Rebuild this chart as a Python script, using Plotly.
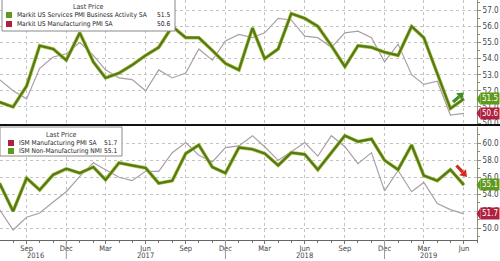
import math
import plotly.graph_objects as go

# ---------------- data ----------------
months = ['2016-07-01', '2016-08-01', '2016-09-01', '2016-10-01', '2016-11-01', '2016-12-01',
          '2017-01-01', '2017-02-01', '2017-03-01', '2017-04-01', '2017-05-01', '2017-06-01',
          '2017-07-01', '2017-08-01', '2017-09-01', '2017-10-01', '2017-11-01', '2017-12-01',
          '2018-01-01', '2018-02-01', '2018-03-01', '2018-04-01', '2018-05-01', '2018-06-01',
          '2018-07-01', '2018-08-01', '2018-09-01', '2018-10-01', '2018-11-01', '2018-12-01',
          '2019-01-01', '2019-02-01', '2019-03-01', '2019-04-01', '2019-05-01', '2019-06-01']

markit_services = [51.3, 51.0, 52.3, 54.8, 54.6, 53.9, 55.6, 53.8, 52.8, 53.1, 53.6, 54.2,
                   54.7, 56.0, 55.3, 55.3, 54.5, 53.7, 53.3, 55.9, 54.0, 54.6, 56.8, 56.5,
                   56.0, 54.8, 53.5, 54.8, 54.7, 54.4, 54.2, 56.0, 55.3, 53.0, 50.9, 51.5]
markit_mfg = [52.7, 52.0, 51.5, 53.4, 54.1, 54.3, 55.0, 54.2, 53.3, 52.8, 52.7, 52.0,
              53.3, 52.8, 53.1, 54.6, 53.9, 55.1, 55.5, 55.3, 55.6, 56.5, 56.4, 55.4,
              55.3, 54.7, 55.6, 55.7, 55.3, 53.8, 54.9, 53.0, 52.4, 52.6, 50.5, 50.6]
ism_nonmfg = [55.3, 52.0, 55.9, 54.5, 56.3, 57.0, 56.5, 57.2, 55.7, 57.7, 57.4, 57.1,
              55.3, 55.6, 58.8, 59.8, 57.2, 56.5, 59.5, 59.3, 58.8, 57.4, 58.9, 58.7,
              56.9, 58.9, 60.9, 60.2, 60.5, 58.0, 56.9, 59.8, 56.2, 55.6, 56.9, 55.1]
ism_mfg = [52.2, 49.8, 51.3, 51.8, 53.1, 54.3, 56.1, 57.7, 56.9, 56.0, 55.6, 56.7,
           56.7, 58.9, 60.1, 58.6, 57.8, 59.5, 59.7, 60.9, 59.6, 58.0, 59.0, 60.1,
           58.5, 60.9, 59.6, 57.6, 58.9, 54.4, 56.8, 54.3, 55.4, 52.9, 52.2, 51.7]

top_names = ['Markit US Services PMI Business Activity SA', 'Markit US Manufacturing PMI SA']
bot_names = ['ISM Manufacturing PMI SA', 'ISM Non-Manufacturing NMI']
years = ['2016', '2017', '2018', '2019']
year_pos = ['2016-09-22', '2017-06-01', '2018-06-01', '2019-03-12']
year_breaks = ['2016-12-01', '2017-12-01', '2018-12-01']

# ---------------- style ----------------
FONT = "DejaVu Sans Condensed, Liberation Sans Narrow, Arial Narrow, sans-serif"
GREEN = '#58761c'
GREEN_HALO = '#a5c83c'
GREY = '#a99eaa'
LBL_GREEN = '#5f9a1c'
LBL_RED = '#b0213f'
W, H = 500, 261
ML, MR, MT, MB = 0, 23, 0, 21
PW, PH = W - ML - MR, H - MT - MB

TOP_RANGE = [49.94, 57.64]
BOT_RANGE = [48.62, 61.92]
TOP_PX, BOT_PX = 124, 113  # panel heights in pixels


def px(x):
    return x / PW


def py(y):
    return (PH - y) / PH


fig = go.Figure()

# top panel
fig.add_trace(go.Scatter(x=months, y=markit_mfg, mode='lines', line=dict(color=GREY, width=1.2),
                         xaxis='x2', yaxis='y', showlegend=False))
fig.add_trace(go.Scatter(x=months, y=markit_services, mode='lines', line=dict(color=GREEN_HALO, width=3.6),
                         xaxis='x2', yaxis='y', showlegend=False))
fig.add_trace(go.Scatter(x=months, y=markit_services, mode='lines', line=dict(color=GREEN, width=2.2),
                         xaxis='x2', yaxis='y', showlegend=False))
# bottom panel
fig.add_trace(go.Scatter(x=months, y=ism_mfg, mode='lines', line=dict(color=GREY, width=1.2),
                         xaxis='x', yaxis='y2', showlegend=False))
fig.add_trace(go.Scatter(x=months, y=ism_nonmfg, mode='lines', line=dict(color=GREEN_HALO, width=3.6),
                         xaxis='x', yaxis='y2', showlegend=False))
fig.add_trace(go.Scatter(x=months, y=ism_nonmfg, mode='lines', line=dict(color=GREEN, width=2.2),
                         xaxis='x', yaxis='y2', showlegend=False))

xr = ['2016-07-02', '2019-07-01']
common_x = dict(type='date', range=xr, dtick='M3', tick0='2016-09-01', showgrid=True,
                gridcolor='#c4c4c4', griddash='dot', gridwidth=1, zeroline=False)
yax_common = dict(side='right', showgrid=True, gridcolor='#c4c4c4', griddash='dot', gridwidth=1,
                  zeroline=False, showline=True, linecolor='#8e8e70', linewidth=1,
                  ticks='outside', ticklen=3, tickcolor='#8e8e70', tickformat='.1f',
                  tickfont=dict(family=FONT, size=8, color='#444'))

fig.update_layout(
    width=W, height=H, margin=dict(l=ML, r=MR, t=MT, b=MB),
    paper_bgcolor='white', plot_bgcolor='white', showlegend=False,
    xaxis=dict(**common_x, anchor='y2', domain=[0, 1], tickformat='%b', ticks='outside', ticklen=3,
               tickcolor='#777', showline=True, linecolor='#666', linewidth=1, ticklabelstandoff=-2,
               tickfont=dict(family=FONT, size=7.5, color='#444'),
               minor=dict(dtick='M1', tick0='2016-07-01', ticks='outside', ticklen=2, tickcolor='#777',
                          showgrid=False)),
    xaxis2=dict(**common_x, anchor='y', matches='x', showticklabels=False, ticks=''),
    yaxis=dict(**yax_common, domain=[py(124), 1], range=TOP_RANGE, dtick=1, tick0=50,
               anchor='x2', minor=dict(dtick=0.5, ticks='outside', ticklen=2, tickcolor='#8e8e70')),
    yaxis2=dict(**yax_common, domain=[0, py(127)], range=BOT_RANGE, dtick=2, tick0=50,
                anchor='x', minor=dict(dtick=1, ticks='outside', ticklen=2, tickcolor='#8e8e70')),
)

shapes = []
annotations = []

# separator between panels
shapes.append(dict(type='line', xref='paper', yref='paper', x0=0, x1=W / PW, y0=py(125), y1=py(125),
                   line=dict(color='#111', width=2)))
# year break ticks
for d in year_breaks:
    shapes.append(dict(type='line', xref='x', yref='paper', x0=d, x1=d, y0=0, y1=py(259),
                       line=dict(color='#999', width=1)))
for yl, yp in zip(years, year_pos):
    annotations.append(dict(text=yl, x=yp, xref='x', y=py(255), yref='paper', showarrow=False,
                            font=dict(family=FONT, size=7.5, color='#444'), xanchor='center', yanchor='middle'))


def legend_box(x0, x1, y0, y1, names, colors, values, title_y, row_ys, sq_x):
    shapes.append(dict(type='rect', xref='paper', yref='paper', x0=px(x0), x1=px(x1), y0=py(y1), y1=py(y0),
                       fillcolor='white', line=dict(color='#8a8a8a', width=1), layer='above'))
    annotations.append(dict(text='Last Price', x=px((x0 + x1) / 2), y=py(title_y), xref='paper', yref='paper',
                            showarrow=False, font=dict(family=FONT, size=7, color='#333'),
                            xanchor='center', yanchor='middle'))
    for n, c, v, ry in zip(names, colors, values, row_ys):
        shapes.append(dict(type='rect', xref='paper', yref='paper', x0=px(sq_x), x1=px(sq_x + 6),
                           y0=py(ry + 3), y1=py(ry - 3), fillcolor=c, line=dict(width=0), layer='above'))
        annotations.append(dict(text=n, x=px(sq_x + 9), y=py(ry), xref='paper', yref='paper', showarrow=False,
                                font=dict(family=FONT, size=6.6, color='#222'), xanchor='left', yanchor='middle'))
        annotations.append(dict(text=f'{v:.1f}', x=px(x1 - 3), y=py(ry), xref='paper', yref='paper',
                                showarrow=False, font=dict(family=FONT, size=6.6, color='#222'),
                                xanchor='right', yanchor='middle'))


legend_box(2, 175, -2, 31, top_names, [LBL_GREEN, LBL_RED], [markit_services[-1], markit_mfg[-1]],
           7, [15, 24], 6)
legend_box(0, 122, 127, 156, bot_names, [LBL_RED, LBL_GREEN], [ism_mfg[-1], ism_nonmfg[-1]],
           135, [143, 151], 8)

# last-value labels on right axis, with pointed left edge
for val, col, yref, rng, hpx in [(markit_services[-1], LBL_GREEN, 'y', TOP_RANGE, TOP_PX),
                                 (markit_mfg[-1], LBL_RED, 'y', TOP_RANGE, TOP_PX),
                                 (ism_nonmfg[-1], LBL_GREEN, 'y2', BOT_RANGE, BOT_PX),
                                 (ism_mfg[-1], LBL_RED, 'y2', BOT_RANGE, BOT_PX)]:
    annotations.append(dict(text=f'{val:.1f}', x=1, xref='paper', xanchor='left', xshift=3,
                            y=val, yref=yref, yanchor='middle', showarrow=False,
                            font=dict(family=FONT, size=8, color='white'), bgcolor=col, borderpad=1))
    half = 6.0 * (rng[1] - rng[0]) / hpx
    path = (f'M {px(476.5)} {val} L {px(480.5)} {val + half} '
            f'L {px(480.5)} {val - half} Z')
    shapes.append(dict(type='path', xref='paper', yref=yref, path=path, fillcolor=col,
                       line=dict(width=0), layer='above'))


def arrow(tail, head, color, shaft=3.2, head_len=6.5, head_half=4.5):
    tx, ty = tail
    hx, hy = head
    L = math.hypot(hx - tx, hy - ty)
    ux, uy = (hx - tx) / L, (hy - ty) / L
    bx, by = hx - ux * head_len, hy - uy * head_len
    shapes.append(dict(type='line', xref='paper', yref='paper', x0=px(tx), y0=py(ty), x1=px(bx), y1=py(by),
                       line=dict(color=color, width=shaft), layer='above'))
    p1 = (bx - uy * head_half, by + ux * head_half)
    p2 = (bx + uy * head_half, by - ux * head_half)
    path = (f'M {px(hx)} {py(hy)} L {px(p1[0])} {py(p1[1])} L {px(p2[0])} {py(p2[1])} Z')
    shapes.append(dict(type='path', xref='paper', yref='paper', path=path, fillcolor=color,
                       line=dict(width=0), layer='above'))


arrow((453, 102), (464, 92.5), '#3d8f2a')
arrow((456.5, 165.5), (467, 177), '#d42a22')

fig.update_layout(shapes=shapes, annotations=annotations)
fig.write_html("out.html")
